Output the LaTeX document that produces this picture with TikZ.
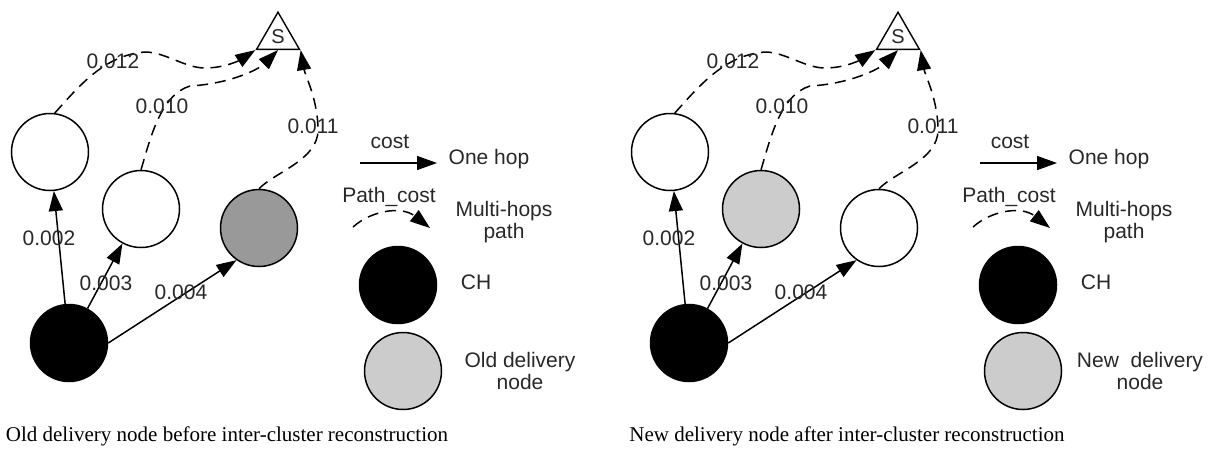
\documentclass[tikz,border=0pt]{standalone}
\usepackage{fontspec}
\setmainfont{Liberation Serif}
\setsansfont{Liberation Sans}
\usetikzlibrary{arrows.meta,shapes.geometric}
\definecolor{midgray}{RGB}{153,153,153}
\definecolor{ltgray}{RGB}{204,204,204}
\definecolor{txtgray}{RGB}{40,40,40}
\tikzset{
  nd/.style={circle, draw, line width=1.5pt, minimum size=77pt, inner sep=0pt},
  hop/.style={line width=1.5pt, -{Triangle[length=20pt,width=14pt]}},
  multi/.style={hop, dash pattern=on 11pt off 7pt},
  lbl/.style={font=\sffamily\fontsize{21}{22}\selectfont, text=txtgray, inner sep=0pt, align=center},
  captext/.style={font=\rmfamily\fontsize{21}{24}\selectfont, inner sep=0pt},
  sinktri/.style={regular polygon, regular polygon sides=3, draw, line width=1.4pt,
    minimum size=49.6pt, inner sep=0pt, font=\sffamily\fontsize{20}{20}\selectfont, text=txtgray}
}
\newcommand\drawpanel[6]{%
\begin{scope}[xshift=#1pt, name prefix=#2-]
  \node[sinktri] (S) at (278,37) {S};
  \node[nd] (A) at (50,152) {};
  \node[nd, fill=#3] (B) at (141,209) {};
  \node[nd, fill=#4] (C) at (259,228) {};
  \node[nd, fill=black] (CH) at (69,343) {};
  % one-hop edges
  \draw[hop] (CH) -- (A);
  \draw[hop] (CH) -- (B);
  \draw[hop] (CH.east) -- (C.235);
  \node[lbl] (l2) at (49,238) {0.002};
  \node[lbl] (l3) at (106,283) {0.003};
  \node[lbl] (l4) at (181,292) {0.004};
  % multi-hop paths
  \draw[multi] (A.83) .. controls (80,85) and (105,55) .. (145,52)
     .. controls (165,52) and (185,68) .. (205,68)
     .. controls (225,68) and (240,60) .. (S.corner 2);
  \draw[multi] (B.north) .. controls (150,140) and (160,95) .. (190,86)
     .. controls (228,84) and (258,70) .. (S.side 2);
  \draw[multi] (C.north) .. controls (275,172) and (318,160) .. (318,130)
     .. controls (318,100) and (305,75) .. (S.corner 3);
  \node[lbl] (l12) at (113,61) {0.012};
  \node[lbl] (l10) at (162,106) {0.010};
  \node[lbl] (l11) at (313,126) {0.011};
  % legend
  \coordinate (h1) at (360,163);
  \coordinate (h2) at (437,163);
  \draw[hop] (h1) -- (h2);
  \node[lbl] (cost) at (390,142) {cost};
  \node[lbl] (onehop) at (489,159) {One hop};
  \coordinate (m1) at (353,227);
  \coordinate (m2) at (430,228);
  \draw[multi] (m1) .. controls (372,210) and (402,206) .. (m2);
  \node[lbl] (pcost) at (389,197) {Path\_cost};
  \node[lbl] (mh) at (504,222) {Multi-hops\\path};
  \node[nd, fill=black] (LCH) at (398,285) {};
  \node[lbl] (chl) at (476,282) {CH};
  \node[nd, fill=ltgray] (LD) at (403,371) {};
  \node[lbl] (ldl) at (520,371) {#5};
  \node[captext] (caption) at (227,436) {#6};
\end{scope}}
\begin{document}
\begin{tikzpicture}[x=1pt, y=-1pt]
  \useasboundingbox (0,0) rectangle (1214,456);
  \drawpanel{0}{L}{white}{midgray}{Old delivery\\node}{Old delivery node before inter-cluster reconstruction}
  \drawpanel{620}{R}{ltgray}{white}{New\ \ delivery\\node}{New delivery node after inter-cluster reconstruction}
\end{tikzpicture}
\end{document}
